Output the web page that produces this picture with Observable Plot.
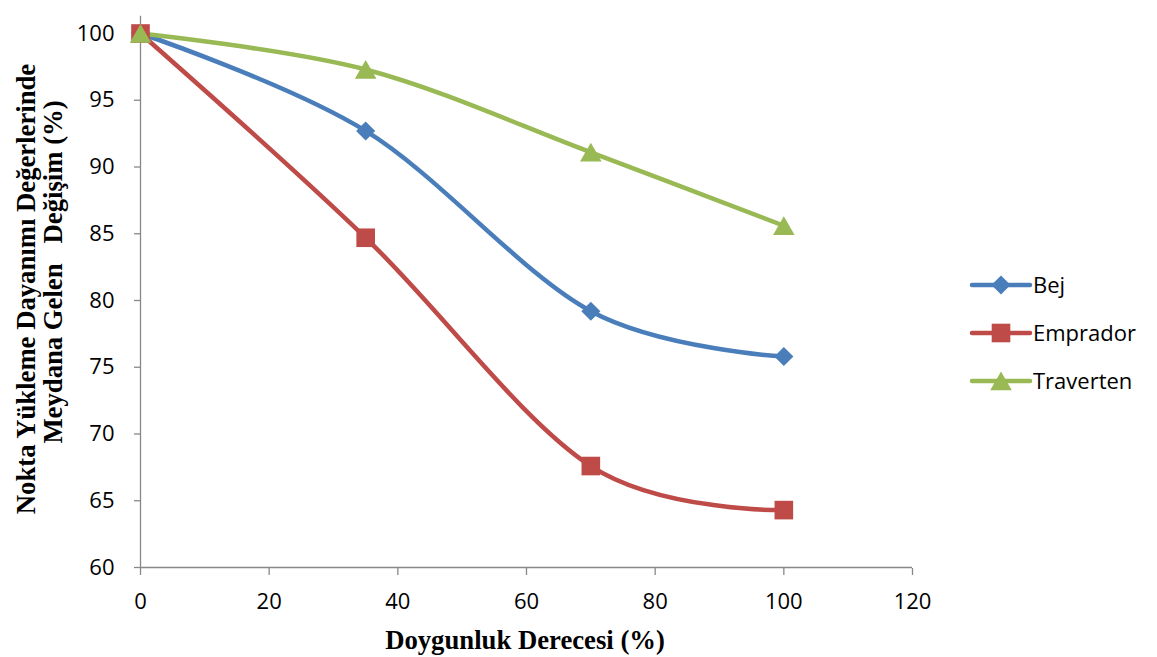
<!DOCTYPE html>
<html>
<head>
<meta charset="utf-8">
<script src="https://cdn.jsdelivr.net/npm/d3@7"></script>
<script src="https://cdn.jsdelivr.net/npm/@observablehq/plot@0.6"></script>
<style>
  html, body { margin: 0; padding: 0; background: #fff; }
  #chart { position: relative; width: 1157px; height: 657px; }
</style>
</head>
<body>
<div id="chart"></div>
<script>
// ---- data ----
const saturation = [0, 35, 70, 100];
const bej = [100, 92.7, 79.2, 75.8];
const emprador = [100, 84.7, 67.6, 64.3];
const traverten = [100, 97.3, 91.1, 85.6];
const seriesNames = ["Bej", "Emprador", "Traverten"];
const seriesColors = ["#4A7EBB", "#BE4B48", "#98B954"];
const seriesSymbols = ["diamond2", "square", "triangle"];
const xTicks = [0, 20, 40, 60, 80, 100, 120];
const yTicks = [60, 65, 70, 75, 80, 85, 90, 95, 100];
const xTitle = "Doygunluk Derecesi (%)";
const yTitle1 = "Nokta Yükleme Dayanımı Değerlerinde";
const yTitle2 = "Meydana Gelen   Değişim (%)";

const valuesBySeries = [bej, emprador, traverten];
const rows = [];
seriesNames.forEach((s, i) => saturation.forEach((x, j) => rows.push({series: s, x, y: valuesBySeries[i][j]})));

const tickFont = "'Open Sans', sans-serif";
const titleFont = "'Liberation Serif', 'Times New Roman', serif";
const axisGrey = "#888888";
const yAxisTop = 101.3;
const markerR = {Bej: 8.6, Emprador: 10.5, Traverten: 8.0};
const markerDy = {Bej: 0, Emprador: 0, Traverten: 3};

const chart = Plot.plot({
  width: 1157,
  height: 657,
  marginLeft: 140,
  marginRight: 245,
  marginTop: 15,
  marginBottom: 89,
  style: {fontFamily: tickFont, fontSize: "22px", color: "#000", background: "#fff"},
  x: {domain: [0, 120], range: [140, 912]},
  y: {domain: [60, 100], range: [567, 33]},
  color: {domain: seriesNames, range: seriesColors},
  symbol: {domain: seriesNames, range: seriesSymbols},
  marks: [
    Plot.ruleX([0], {y1: 60, y2: yAxisTop, stroke: axisGrey, strokeWidth: 1.3}),
    Plot.ruleY([60], {x1: 0, x2: 120, stroke: axisGrey, strokeWidth: 1.3}),
    Plot.axisY({ticks: yTicks, tickSize: 6, tickPadding: 20, stroke: axisGrey, strokeWidth: 1.3, label: null, fill: "#000", fontSize: 22}),
    Plot.axisX({ticks: xTicks, tickSize: 7, tickPadding: 18, stroke: axisGrey, strokeWidth: 1.3, label: null, fill: "#000", fontSize: 22}),
    Plot.line(rows, {x: "x", y: "y", z: "series", stroke: "series", curve: "cardinal", strokeWidth: 4.5}),
    ...seriesNames.map(name =>
      Plot.dot(rows.filter(d => d.series === name), {x: "x", y: "y", symbol: "series", fill: "series", stroke: "none", r: markerR[name], dy: markerDy[name]})
    )
  ]
});

document.getElementById("chart").appendChild(chart);

const svg = d3.select(chart);

// axis titles
svg.append("text")
  .attr("x", 525).attr("y", 649)
  .attr("text-anchor", "middle")
  .style("font-family", titleFont).style("font-weight", "bold").style("font-size", "26.7px")
  .attr("fill", "#000")
  .text(xTitle);

svg.append("text")
  .attr("transform", "translate(35,289) rotate(-90)")
  .attr("text-anchor", "middle")
  .style("font-family", titleFont).style("font-weight", "bold").style("font-size", "26.7px")
  .attr("fill", "#000")
  .text(yTitle1);

svg.append("text")
  .attr("transform", "translate(62,272) rotate(-90)")
  .attr("text-anchor", "middle")
  .style("font-family", titleFont).style("font-weight", "bold").style("font-size", "26.7px")
  .style("white-space", "pre")
  .attr("fill", "#000")
  .text(yTitle2);

// legend
const symMap = {diamond2: d3.symbolDiamond2, square: d3.symbolSquare, triangle: d3.symbolTriangle};
const leg = svg.append("g").attr("transform", "translate(972,285)");
seriesNames.forEach((name, i) => {
  const g = leg.append("g").attr("transform", `translate(0,${i * 48})`);
  g.append("line").attr("x1", 0).attr("x2", 58).attr("y1", 0).attr("y2", 0)
    .attr("stroke", seriesColors[i]).attr("stroke-width", 4.5).attr("stroke-linecap", "round");
  const r = markerR[name];
  g.append("path").attr("transform", `translate(29,${markerDy[name]})`)
    .attr("d", d3.symbol(symMap[seriesSymbols[i]], r * r * Math.PI)())
    .attr("fill", seriesColors[i]);
  g.append("text").attr("x", 61).attr("y", 0).attr("dy", "0.35em")
    .attr("text-anchor", "start")
    .style("font-family", tickFont).style("font-size", "22px").attr("fill", "#000")
    .text(name);
});
</script>
</body>
</html>
